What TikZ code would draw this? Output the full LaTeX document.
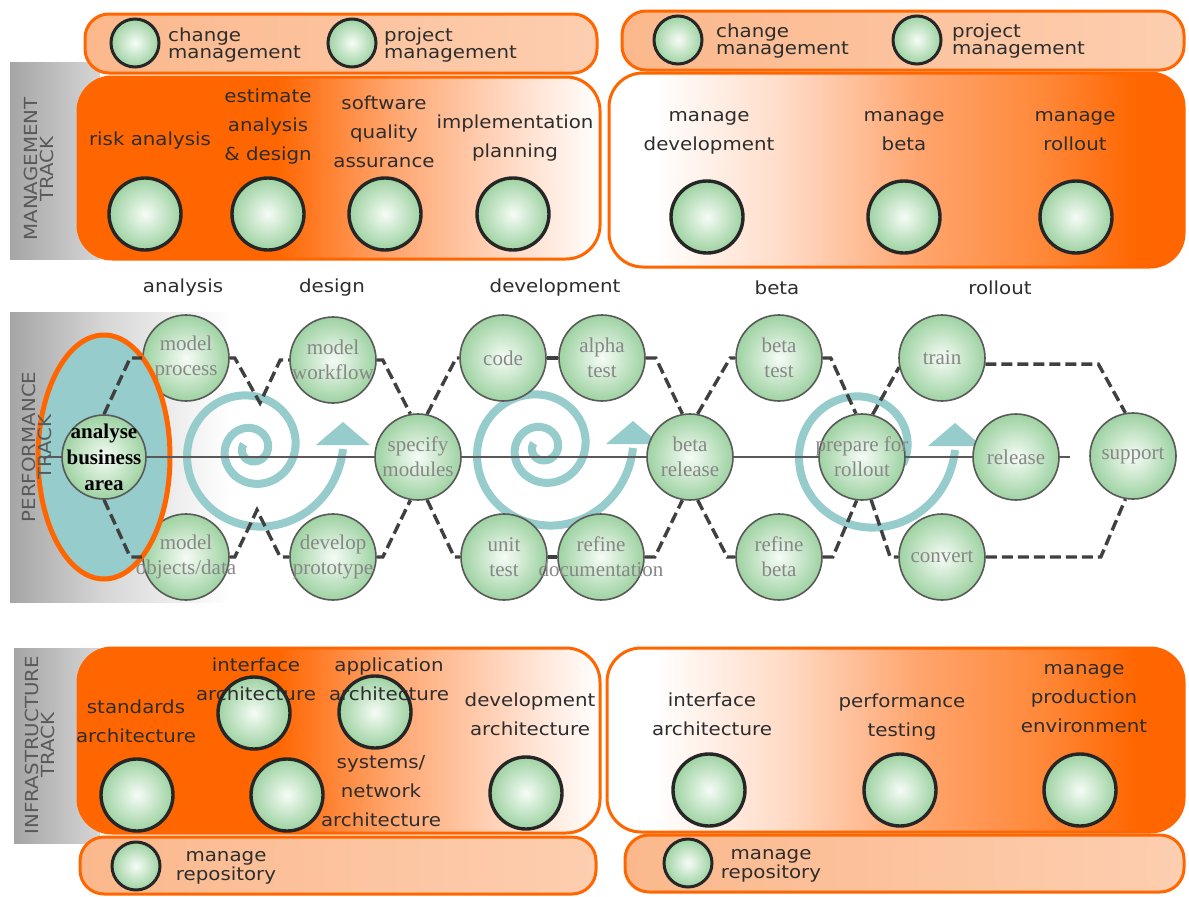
\documentclass[tikz,border=0pt]{standalone}
\usepackage{fontspec}
\setmainfont{Liberation Serif}
\newfontfamily\lblfont[FakeStretch=1.1]{DejaVu Sans}
\definecolor{orD}{RGB}{255,102,0}
\definecolor{orN}{RGB}{255,135,55}
\definecolor{orM}{RGB}{255,165,110}
\definecolor{orL}{RGB}{255,220,200}
\definecolor{peachA}{RGB}{251,184,140}
\definecolor{peachB}{RGB}{253,206,176}
\definecolor{tealS}{RGB}{150,204,204}
\definecolor{greenE}{RGB}{158,210,162}
\definecolor{greenC}{RGB}{246,252,246}
\definecolor{gryA}{RGB}{165,165,165}
\definecolor{gryB}{RGB}{214,214,214}
\definecolor{dashc}{RGB}{64,64,64}
\definecolor{ptext}{RGB}{135,135,135}
\definecolor{ltext}{RGB}{45,45,45}
\pgfdeclarehorizontalshading{fadeLR}{100bp}{color(0bp)=(orD); color(25bp)=(orD); color(44bp)=(orD); color(55bp)=(orM); color(67bp)=(orL); color(75bp)=(white); color(100bp)=(white)}
\pgfdeclarehorizontalshading{fadeRL}{100bp}{color(0bp)=(white); color(25bp)=(white); color(29bp)=(white); color(40bp)=(orL); color(52bp)=(orM); color(63bp)=(orN); color(71bp)=(orD); color(100bp)=(orD)}
\pgfdeclarehorizontalshading{grayfade}{100bp}{color(0bp)=(gryA); color(25bp)=(gryA); color(45bp)=(gryB); color(72bp)=(white); color(100bp)=(white)}
\pgfdeclarelayer{base}
\pgfdeclarelayer{lower}
\pgfdeclarelayer{mid}
\pgfsetlayers{base,lower,mid,main}
% cycle spiral with arrowhead, centred at (#2,#3), starting at angle #1
\newcommand\drawspiral[3]{%
  \draw[spiralline] plot[domain=#1:1080, samples=260, smooth, variable=\t]
    ({#2 + (9.2 - 0.982*\t/100 + 0.792*(\t/100)^2)*cos(\t)},
     {#3 - (9.2 - 0.982*\t/100 + 0.792*(\t/100)^2)*sin(\t)});
  \fill[tealS] (#2+64,#3-4) -- (#2+91,#3-27) -- (#2+118,#3-4) -- cycle;
}
\begin{document}
\begin{tikzpicture}[x=1pt, y=-1pt,
  boxL/.style={draw=orD, line width=3pt, rounded corners=34pt, shade, shading=fadeLR},
  boxR/.style={draw=orD, line width=3pt, rounded corners=34pt, shade, shading=fadeRL},
  pill/.style={draw=orD, line width=3pt, rounded corners=24pt, left color=peachA, right color=peachB},
  mnode/.style={circle, minimum size=72pt, inner sep=0pt, draw=black!85, line width=3.4pt, inner color=greenC, outer color=greenE},
  snode/.style={circle, minimum size=48pt, inner sep=0pt, draw=black!85, line width=3pt, inner color=greenC, outer color=greenE},
  pnode/.style={circle, minimum size=86pt, inner sep=0pt, draw=black!65, line width=1.6pt, inner color=greenC, outer color=greenE},
  plabel/.style={font=\fontsize{21}{25}\selectfont, text=ptext, align=center, inner sep=0pt},
  lbl/.style={font=\lblfont\fontsize{18}{29}\selectfont, text=ltext, align=center, inner sep=0pt},
  pilltxt/.style={font=\lblfont\fontsize{18}{14}\selectfont, text=ltext, align=left, inner sep=0pt, anchor=west},
  tracktxt/.style={font=\lblfont\fontsize{18}{16}\selectfont, text=black!65, align=center, rotate=90, inner sep=0pt},
  dashline/.style={draw=dashc, line width=3.4pt, dash pattern=on 11pt off 5pt},
  spiralline/.style={draw=tealS, line width=8pt},
  hline/.style={draw=black!65, line width=1.5pt}]

\begin{pgfonlayer}{base}
  \fill[white] (0,0) rectangle (1189,897);
  % management track
  \shade[left color=gryA, right color=gryB] (10,62) rectangle (100,259);
  \draw[boxL] (78,77) rectangle (600,259);
  \draw[boxR] (609,73) rectangle (1184,267);
  \draw[pill] (85,14) rectangle (597,73);
  \draw[pill] (622,11) rectangle (1184,70);
  % performance track
  \shade[shading=grayfade] (10,312) rectangle (245,602);
  % infrastructure track
  \shade[left color=gryA, right color=gryB] (14,648) rectangle (100,843);
  \draw[boxL] (78,648) rectangle (600,833);
  \draw[boxR] (607,648) rectangle (1184,832);
  \draw[pill] (80,837) rectangle (596,894);
  \draw[pill] (625,835) rectangle (1184,892);
\end{pgfonlayer}
\useasboundingbox (0,0) rectangle (1189,897);

% ---------- management track ----------
\node[tracktxt] (mtrack) at (39,169) {MANAGEMENT\\TRACK};
\node[snode] (chg1) at (135,43) {};
\node[pilltxt] (chg1t) at (168,45) {change\\management};
\node[snode] (prj1) at (352,43) {};
\node[pilltxt] (prj1t) at (384,45) {project\\management};
\node[snode] (chg2) at (678,40) {};
\node[pilltxt] (chg2t) at (716,41) {change\\management};
\node[snode] (prj2) at (917,40) {};
\node[pilltxt] (prj2t) at (952,41) {project\\management};

\node[mnode] (risk) at (145,214) {};
\node[mnode] (est) at (268,214) {};
\node[mnode] (sqa) at (385,214) {};
\node[mnode] (impl) at (513,214) {};
\node[mnode] (mdev) at (707,217) {};
\node[mnode] (mbeta) at (904,217) {};
\node[mnode] (mroll) at (1076,217) {};
\node[lbl] (riskt) at (150,141) {risk analysis};
\node[lbl] (estt) at (268,127) {estimate\\analysis\\\& design};
\node[lbl] (sqat) at (384,132) {software\\quality\\assurance};
\node[lbl] (implt) at (515,138) {implementation\\planning};
\node[lbl] (mdevt) at (709,133) {manage\\development};
\node[lbl] (mbetat) at (904,131) {manage\\beta};
\node[lbl] (mrollt) at (1075,131) {manage\\rollout};

% ---------- phases ----------
\node[lbl] (ph1) at (183,288) {analysis};
\node[lbl] (ph2) at (332,288) {design};
\node[lbl] (ph3) at (555,288) {development};
\node[lbl] (ph4) at (777,288) {beta};
\node[lbl] (ph5) at (1000,288) {rollout};

% ---------- performance track ----------
\node[tracktxt] (ptrack) at (37,447) {PERFORMANCE\\TRACK};
\begin{pgfonlayer}{lower}
  \node[pnode, label={[plabel]center:model\\process}] (mp) at (186,358) {};
  \node[pnode, label={[plabel]center:model\\objects/data}] (mo) at (186,557) {};
\end{pgfonlayer}
\node[pnode, minimum size=84pt, label={[plabel, text=black, font=\bfseries\fontsize{21}{26}\selectfont]center:analyse\\business\\area}] (an) at (104,457) {};
\node[pnode, label={[plabel]center:model\\workflow}] (mw) at (333,360) {};
\node[pnode, label={[plabel]center:develop\\prototype}] (dp) at (333,557) {};
\node[pnode, label={[plabel]center:specify\\modules}] (sm) at (418,457) {};
\node[pnode, label={[plabel]center:code}] (co) at (503,358) {};
\node[pnode, label={[plabel]center:alpha\\test}] (at) at (602,358) {};
\node[pnode, label={[plabel]center:unit\\test}] (ut) at (504,557) {};
\node[pnode, label={[plabel]center:refine\\documentation}] (rd) at (601,557) {};
\node[pnode, label={[plabel]center:beta\\release}] (br) at (690,457) {};
\node[pnode, label={[plabel]center:beta\\test}] (bt) at (779,358) {};
\node[pnode, label={[plabel]center:refine\\beta}] (rb) at (779,557) {};
\node[pnode, label={[plabel]center:prepare for\\rollout}] (pr) at (862,457) {};
\node[pnode, label={[plabel]center:train}] (tr) at (942,358) {};
\node[pnode, label={[plabel]center:convert}] (cv) at (942,557) {};
\node[pnode, label={[plabel]center:release}] (rl) at (1016,457) {};
\node[pnode, label={[plabel]center:support}] (su) at (1133,456) {};

\coordinate (v1) at (260,403);
\coordinate (v2) at (257,510);
\coordinate (hl0) at (44,457);
\coordinate (hl1) at (1070,457);

\begin{pgfonlayer}{mid}
  \draw[fill=tealS, draw=orD, line width=5pt] (104,457) ellipse [x radius=66, y radius=122];
  \drawspiral{150}{252}{449}
  \drawspiral{150}{542}{448}
  \drawspiral{700}{864}{450}
  \draw[dashline] (an.north) -- ([xshift=-12pt]mp.west) -- (mp.west);
  \draw[dashline] (an.south) -- ([xshift=-12pt]mo.west) -- (mo.west);
  \draw[dashline] (mp.east) -- ([xshift=5pt]mp.east) -- (v1) -- ([xshift=-9pt]mw.west) -- (mw.west);
  \draw[dashline] (mo.east) -- ([xshift=5pt]mo.east) -- (v2) -- ([xshift=-9pt]dp.west) -- (dp.west);
  \draw[dashline] (mw.east) -- ([xshift=6pt]mw.east) -- (sm.100);
  \draw[dashline] (dp.east) -- ([xshift=6pt]dp.east) -- (sm.260);
  \draw[dashline] (sm.78) -- ([xshift=-3pt]co.west) -- (co.west);
  \draw[dashline] (sm.282) -- ([xshift=-6pt]ut.west) -- (ut.west);
  \draw[dashline] (co.east) -- (at.west);
  \draw[dashline] (ut.east) -- (rd.west);
  \draw[dashline] (at.east) -- ([xshift=10pt]at.east) -- (br.100);
  \draw[dashline] (rd.east) -- ([xshift=10pt]rd.east) -- (br.260);
  \draw[dashline] (br.80) -- ([xshift=-5pt]bt.west) -- (bt.west);
  \draw[dashline] (br.280) -- ([xshift=-8pt]rb.west) -- (rb.west);
  \draw[dashline] (bt.east) -- ([xshift=8pt]bt.east) -- (pr.98);
  \draw[dashline] (rb.east) -- ([xshift=10pt]rb.east) -- (pr.263);
  \draw[dashline] (pr.76) -- (tr.192);
  \draw[dashline] (pr.282) -- ([xshift=-8pt]cv.west) -- (cv.west);
  \draw[dashline] (tr.-8) -- ([xshift=113pt]tr.-8) -- (su.100);
  \draw[dashline] (cv.east) -- ([xshift=115pt]cv.east) -- (su.260);
  \draw[hline] (hl0) -- (hl1);
\end{pgfonlayer}

% ---------- infrastructure track ----------
\node[tracktxt] (itrack) at (40,745) {INFRASTRUCTURE\\TRACK};
\node[mnode] (stda) at (137,795) {};
\node[mnode] (ifa) at (254,713) {};
\node[mnode] (appa) at (375,712) {};
\node[mnode] (sysa) at (287,795) {};
\node[mnode] (deva) at (526,793) {};
\node[mnode] (ifa2) at (709,790) {};
\node[mnode] (perf) at (900,790) {};
\node[mnode] (prod) at (1080,790) {};
\node[lbl] (stdat) at (136,721) {standards\\architecture};
\node[lbl] (ifat) at (256,679) {interface\\architecture};
\node[lbl] (appat) at (389,679) {application\\architecture};
\node[lbl] (sysat) at (381,791) {systems/\\network\\architecture};
\node[lbl] (devat) at (530,714) {development\\architecture};
\node[lbl] (ifa2t) at (712,714) {interface\\architecture};
\node[lbl] (perft) at (902,717) {performance\\testing};
\node[lbl] (prodt) at (1084,699) {manage\\production\\environment};
\node[snode] (rep1) at (136,866) {};
\node[lbl, font=\lblfont\fontsize{18}{14}\selectfont] (rep1t) at (226,868) {manage\\repository};
\node[snode] (rep2) at (688,863) {};
\node[lbl, font=\lblfont\fontsize{18}{14}\selectfont] (rep2t) at (771,866) {manage\\repository};
\end{tikzpicture}
\end{document}
